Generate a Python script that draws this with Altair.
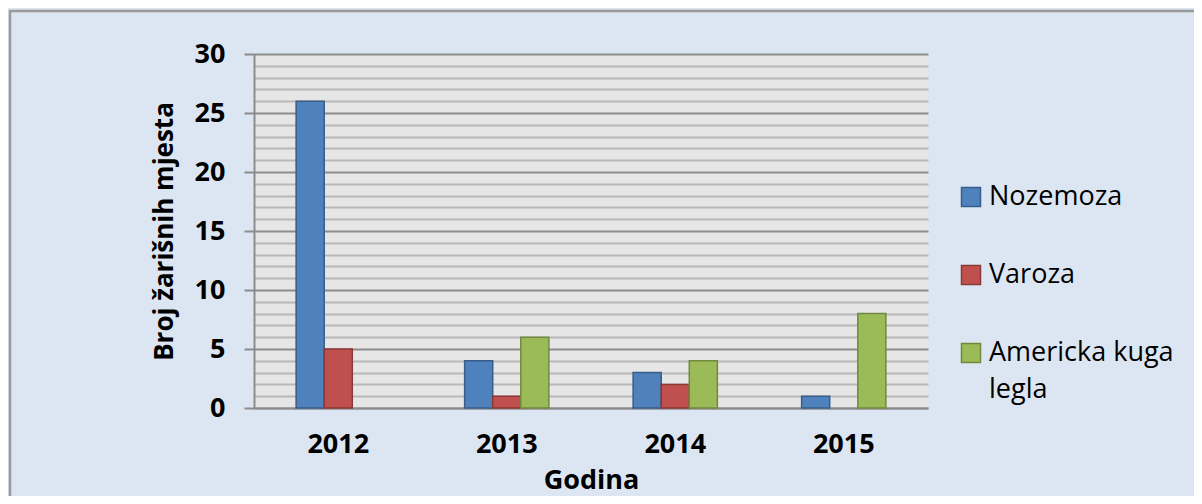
import altair as alt
import pandas as pd

years = ["2012", "2013", "2014", "2015"]
series = ["Nozemoza", "Varoza", "Americka kuga legla"]
legend_labels = ["Nozemoza", "Varoza", "Americka kuga|legla"]
nozemoza = [26, 4, 3, 1]
varoza = [5, 1, 2, 0]
americka = [0, 6, 4, 8]

fill_colors = ["#4F81BD", "#C0504D", "#9BBB59"]
stroke_colors = ["#385D8A", "#8C3836", "#71893F"]

rows = []
for name, vals in zip(series, [nozemoza, varoza, americka]):
    for y, v in zip(years, vals):
        rows.append({"Godina": y, "Serija": name, "value": v})
df = pd.DataFrame(rows)
leg_df = pd.DataFrame({"Serija": series, "label": legend_labels})

FONT = "Open Sans"

fill_scale = alt.Scale(domain=series, range=fill_colors)
stroke_scale = alt.Scale(domain=series, range=stroke_colors)

bars = alt.Chart(df).transform_filter("datum.value > 0").mark_bar(strokeWidth=1.5).encode(
    x=alt.X("Godina:N", sort=years,
            scale=alt.Scale(paddingInner=0.5, paddingOuter=0.25),
            axis=alt.Axis(title="Godina", labelAngle=0, ticks=False,
                          domainColor="#8C8C8C", domainWidth=2,
                          labelFont=FONT, labelFontSize=27, labelFontWeight="bold",
                          labelColor="#000000", labelPadding=23,
                          titleFont=FONT, titleFontSize=27, titleFontWeight="bold",
                          titleColor="#000000", titleBaseline="middle", titleY=72,
                          grid=False)),
    xOffset=alt.XOffset("Serija:N", sort=series, scale=alt.Scale(domain=series, paddingInner=0, paddingOuter=0)),
    y=alt.Y("value:Q",
            scale=alt.Scale(domain=[0, 30], nice=False),
            axis=alt.Axis(title="Broj žarišnih mjesta", values=list(range(0, 31)),
                          labelExpr="datum.value % 5 === 0 ? datum.label : ''",
                          grid=True,
                          gridColor={"condition": {"test": "datum.value % 5 === 0", "value": "#8C8C8C"}, "value": "#B8B8B8"},
                          gridWidth=2,
                          tickColor={"condition": {"test": "datum.value % 5 === 0", "value": "#8C8C8C"}, "value": "transparent"},
                          tickSize=10, tickWidth=2,
                          domainColor="#8C8C8C", domainWidth=2,
                          labelFont=FONT, labelFontSize=27, labelFontWeight="bold",
                          labelColor="#000000", labelPadding=19,
                          titleFont=FONT, titleFontSize=26, titleFontWeight="bold",
                          titleColor="#000000", titleBaseline="middle",
                          titleX=-90, titleY=177)),
    fill=alt.Fill("Serija:N", sort=series, scale=fill_scale, legend=None),
    stroke=alt.Stroke("Serija:N", sort=series, scale=stroke_scale, legend=None),
)

leg_y = alt.Y("Serija:N", sort=series,
              scale=alt.Scale(type="point", domain=series, range=[143, 299], padding=0),
              axis=None)

leg_symbols = alt.Chart(leg_df).mark_square(size=361, strokeWidth=1.5, opacity=1).encode(
    x=alt.value(717),
    y=leg_y,
    fill=alt.Fill("Serija:N", sort=series, scale=fill_scale, legend=None),
    stroke=alt.Stroke("Serija:N", sort=series, scale=stroke_scale, legend=None),
)

leg_text = alt.Chart(leg_df).transform_calculate(
    lines="split(datum.label, '|')"
).mark_text(align="left", baseline="middle", font=FONT, fontSize=27,
            lineHeight=37, color="#000000").encode(
    x=alt.value(735),
    y=leg_y,
    text=alt.Text("lines:N"),
)

frame = alt.Chart(pd.DataFrame({"f": [1]})).mark_rect(fill=None, stroke="#9A9A9A", strokeWidth=2.5).encode(
    x=alt.value(-244), y=alt.value(-43), x2=alt.value(1000), y2=alt.value(500)
)

chart = alt.layer(frame, bars, leg_symbols, leg_text).resolve_scale(
    y="independent"
).properties(
    width=674, height=354,
    autosize=alt.AutoSizeParams(type="none"),
    padding={"left": 246, "top": 46, "right": 266, "bottom": 88},
    background="#DCE6F2",
).configure_view(fill="#E6E6E6", stroke=None)

chart.save("out.html", embed_options={"renderer": "svg", "actions": False})
